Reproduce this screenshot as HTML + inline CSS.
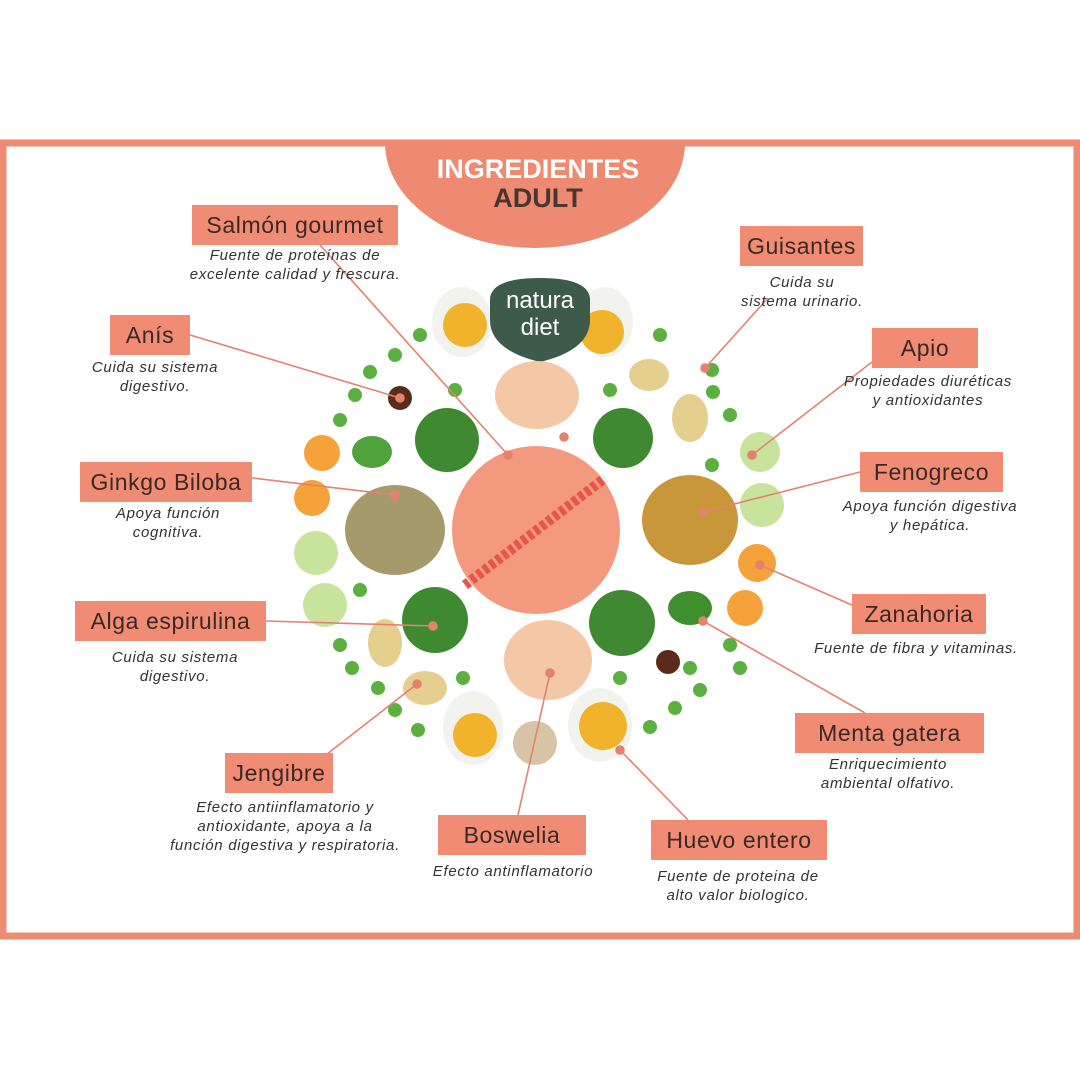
<!DOCTYPE html>
<html><head><meta charset="utf-8"><style>
html,body{margin:0;padding:0;background:#fff;}
body{width:1080px;height:1080px;position:relative;overflow:hidden;font-family:"Liberation Sans",sans-serif;}
.lb{position:absolute;background:#ef8c73;color:#3b2826;font-size:23px;height:40px;line-height:40px;text-align:center;letter-spacing:0.6px;}
.d{position:absolute;font-style:italic;color:#333;font-size:15px;letter-spacing:0.7px;line-height:19px;text-align:center;white-space:nowrap;transform:translateX(-50%);}
svg{position:absolute;left:0;top:0;}
</style></head><body>
<svg width="1080" height="1080">
<rect x="3" y="143" width="1074" height="793" fill="none" stroke="#ee8b73" stroke-width="7"/>
<path d="M385 143 A150 105 0 0 0 685 143 Z" fill="#ef8a72"/>
<text x="538" y="178" text-anchor="middle" font-family="Liberation Sans" font-size="27" font-weight="bold" fill="#fff">INGREDIENTES</text>
<text x="538" y="207" text-anchor="middle" font-family="Liberation Sans" font-size="27" font-weight="bold" fill="#4a3630">ADULT</text>
<g fill="#5cb040">
<circle cx="395" cy="355" r="7"/><circle cx="355" cy="395" r="7"/><circle cx="340" cy="420" r="7"/><circle cx="370" cy="372" r="7"/><circle cx="455" cy="390" r="7"/><circle cx="610" cy="390" r="7"/><circle cx="712" cy="370" r="7"/><circle cx="713" cy="392" r="7"/><circle cx="730" cy="415" r="7"/><circle cx="712" cy="465" r="7"/><circle cx="360" cy="590" r="7"/><circle cx="340" cy="645" r="7"/><circle cx="352" cy="668" r="7"/><circle cx="378" cy="688" r="7"/><circle cx="395" cy="710" r="7"/><circle cx="418" cy="730" r="7"/><circle cx="463" cy="678" r="7"/><circle cx="620" cy="678" r="7"/><circle cx="690" cy="668" r="7"/><circle cx="700" cy="690" r="7"/><circle cx="675" cy="708" r="7"/><circle cx="650" cy="727" r="7"/><circle cx="730" cy="645" r="7"/><circle cx="740" cy="668" r="7"/><circle cx="420" cy="335" r="7"/><circle cx="660" cy="335" r="7"/>
</g>
<g><ellipse cx="462" cy="322" rx="30" ry="35" fill="#f2f2ee"/><circle cx="465" cy="325" r="22" fill="#f2b32c"/>
<ellipse cx="605" cy="322" rx="28" ry="35" fill="#f2f2ee"/><circle cx="602" cy="332" r="22" fill="#f2b32c"/>
<ellipse cx="473" cy="728" rx="30" ry="37" fill="#f2f2ee"/><circle cx="475" cy="735" r="22" fill="#f2b32c"/>
<ellipse cx="600" cy="725" rx="32" ry="37" fill="#f2f2ee"/><circle cx="603" cy="726" r="24" fill="#f2b32c"/></g>
<path d="M490 300 Q490 278 540 278 Q590 278 590 300 L590 320 Q590 350 540 362 Q490 350 490 320 Z" fill="#3d5a4a"/>
<text x="540" y="308" text-anchor="middle" font-family="Liberation Sans" font-size="24" fill="#fff">natura</text>
<text x="540" y="335" text-anchor="middle" font-family="Liberation Sans" font-size="24" fill="#fff">diet</text>
<ellipse cx="537" cy="395" rx="42" ry="34" fill="#f4c7a6"/><ellipse cx="548" cy="660" rx="44" ry="40" fill="#f4c7a6"/>
<g fill="#3f8a30"><circle cx="447" cy="440" r="32"/><circle cx="623" cy="438" r="30"/><circle cx="435" cy="620" r="33"/><circle cx="622" cy="623" r="33"/></g>
<ellipse cx="395" cy="530" rx="50" ry="45" fill="#a59a6c"/>
<ellipse cx="690" cy="520" rx="48" ry="45" fill="#c8973a"/>
<g fill="#c8e39b"><circle cx="316" cy="553" r="22"/><circle cx="325" cy="605" r="22"/><circle cx="760" cy="452" r="20"/><circle cx="762" cy="505" r="22"/></g>
<g fill="#f5a23a"><circle cx="322" cy="453" r="18"/><circle cx="312" cy="498" r="18"/><circle cx="757" cy="563" r="19"/><circle cx="745" cy="608" r="18"/></g>
<g fill="#e5cf8e"><ellipse cx="649" cy="375" rx="20" ry="16"/><ellipse cx="690" cy="418" rx="18" ry="24"/><ellipse cx="385" cy="643" rx="17" ry="24"/><ellipse cx="425" cy="688" rx="22" ry="17"/></g>
<ellipse cx="372" cy="452" rx="20" ry="16" fill="#4fa33a"/><ellipse cx="690" cy="608" rx="22" ry="17" fill="#3e8f2e"/>
<g fill="#5a2a1c"><circle cx="400" cy="398" r="12"/><circle cx="668" cy="662" r="12"/></g>
<circle cx="536" cy="530" r="84" fill="#f39a7e"/>
<line x1="465" y1="585" x2="605" y2="478" stroke="#e8534a" stroke-width="10" stroke-dasharray="5 3"/>
<ellipse cx="535" cy="743" rx="22" ry="22" fill="#d7c3a5"/>
<g stroke="#e4826f" stroke-width="1.6" fill="#e4826f">
<line x1="320" y1="245" x2="508" y2="455"/><circle cx="508" cy="455" r="4"/>
<line x1="190" y1="335" x2="400" y2="398"/><circle cx="400" cy="398" r="4"/>
<line x1="768" y1="298" x2="705" y2="368"/><circle cx="705" cy="368" r="4"/>
<line x1="872" y1="362" x2="752" y2="455"/><circle cx="752" cy="455" r="4"/>
<line x1="252" y1="478" x2="395" y2="495"/><circle cx="395" cy="495" r="4"/>
<line x1="860" y1="472" x2="703" y2="512"/><circle cx="703" cy="512" r="4"/>
<line x1="266" y1="621" x2="433" y2="626"/><circle cx="433" cy="626" r="4"/>
<line x1="852" y1="605" x2="760" y2="565"/><circle cx="760" cy="565" r="4"/>
<line x1="865" y1="713" x2="703" y2="621"/><circle cx="703" cy="621" r="4"/>
<line x1="322" y1="758" x2="417" y2="684"/><circle cx="417" cy="684" r="4"/>
<line x1="518" y1="815" x2="550" y2="673"/><circle cx="550" cy="673" r="4"/>
<line x1="688" y1="820" x2="620" y2="750"/><circle cx="620" cy="750" r="4"/>
<circle cx="564" cy="437" r="4"/>
</g>
</svg>
<div class="lb" style="left:192px;top:205px;width:206px">Salmón gourmet</div>
<div class="d" style="left:295px;top:246px">Fuente de proteínas de<br>excelente calidad y frescura.</div>
<div class="lb" style="left:110px;top:315px;width:80px">Anís</div>
<div class="d" style="left:155px;top:358px">Cuida su sistema<br>digestivo.</div>
<div class="lb" style="left:740px;top:226px;width:123px">Guisantes</div>
<div class="d" style="left:802px;top:273px">Cuida su<br>sistema urinario.</div>
<div class="lb" style="left:872px;top:328px;width:106px">Apio</div>
<div class="d" style="left:928px;top:372px">Propiedades diuréticas<br>y antioxidantes</div>
<div class="lb" style="left:80px;top:462px;width:172px">Ginkgo Biloba</div>
<div class="d" style="left:168px;top:504px">Apoya función<br>cognitiva.</div>
<div class="lb" style="left:860px;top:452px;width:143px">Fenogreco</div>
<div class="d" style="left:930px;top:497px">Apoya función digestiva<br>y hepática.</div>
<div class="lb" style="left:75px;top:601px;width:191px">Alga espirulina</div>
<div class="d" style="left:175px;top:648px">Cuida su sistema<br>digestivo.</div>
<div class="lb" style="left:852px;top:594px;width:134px">Zanahoria</div>
<div class="d" style="left:916px;top:639px">Fuente de fibra y vitaminas.</div>
<div class="lb" style="left:795px;top:713px;width:189px">Menta gatera</div>
<div class="d" style="left:888px;top:755px">Enriquecimiento<br>ambiental olfativo.</div>
<div class="lb" style="left:225px;top:753px;width:108px">Jengibre</div>
<div class="d" style="left:285px;top:798px">Efecto antiinflamatorio y<br>antioxidante, apoya a la<br>función digestiva y respiratoria.</div>
<div class="lb" style="left:438px;top:815px;width:148px">Boswelia</div>
<div class="d" style="left:513px;top:862px">Efecto antinflamatorio</div>
<div class="lb" style="left:651px;top:820px;width:176px">Huevo entero</div>
<div class="d" style="left:738px;top:867px">Fuente de proteina de<br>alto valor biologico.</div>
</body></html>
